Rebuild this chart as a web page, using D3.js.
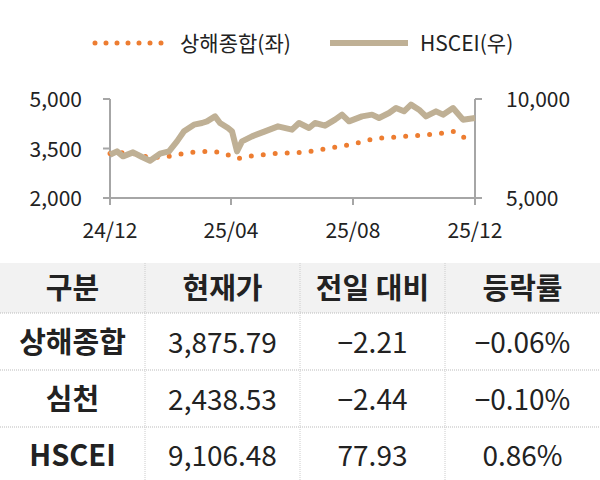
<!DOCTYPE html>
<html><head><meta charset="utf-8">
<script src="https://cdn.jsdelivr.net/npm/d3@7"></script>
<style>body{margin:0;background:#fff}text{font-family:"Noto Sans CJK KR","Noto Sans",sans-serif}</style>
</head><body><svg id="c" width="600" height="480"></svg>
<script>
const shDates=["2024-12-01","2024-12-20","2025-01-10","2025-01-25","2025-02-19","2025-03-12","2025-03-24","2025-04-07","2025-04-23","2025-05-18","2025-06-13","2025-07-07","2025-08-01","2025-08-23","2025-09-14","2025-10-07","2025-10-28","2025-11-09","2025-11-19","2025-12-01"];
const shVals=[3350,3380,3220,3243,3384,3424,3364,3192,3283,3354,3384,3505,3636,3808,3849,3899,3960,4020,3838,3876];
const hsDates=["2024-12-01","2024-12-08","2024-12-14","2024-12-24","2025-01-02","2025-01-10","2025-01-20","2025-01-29","2025-02-06","2025-02-13","2025-02-23","2025-03-03","2025-03-08","2025-03-16","2025-03-21","2025-03-29","2025-04-02","2025-04-07","2025-04-12","2025-04-22","2025-05-05","2025-05-18","2025-06-01","2025-06-08","2025-06-18","2025-06-24","2025-07-04","2025-07-14","2025-07-21","2025-07-28","2025-08-10","2025-08-20","2025-08-27","2025-09-06","2025-09-13","2025-09-21","2025-09-28","2025-10-06","2025-10-13","2025-10-23","2025-10-30","2025-11-09","2025-11-19","2025-12-01"];
const hsVals=[7188,7356,7104,7306,7070,6885,7238,7356,7861,8367,8703,8788,8872,9124,8788,8535,8367,7356,7861,8114,8367,8619,8451,8788,8535,8788,8653,8956,9209,8872,9124,9209,9040,9293,9545,9377,9714,9461,9124,9377,9209,9545,8956,9040];
const leftTicks=[2000,3500,5000];
const rightTicks=[5000,10000];
const xTicks=["2024-12-01","2025-04-01","2025-08-01","2025-12-01"];
const xTickLabels=["24/12","25/04","25/08","25/12"];
const legendLabels=["상해종합(좌)","HSCEI(우)"];
const tableHeader=["구분","현재가","전일 대비","등락률"];
const tableRows=[["상해종합","3,875.79","-2.21","-0.06%"],["심천","2,438.53","-2.44","-0.10%"],["HSCEI","9,106.48","77.93","0.86%"]];

const orange="#ED7D31", beige="#BFB095", gray="#A6A6A6";
const svg=d3.select("#c");
const pd=d3.timeParse("%Y-%m-%d");
const x=d3.scaleTime().domain([pd("2024-12-01"),pd("2025-12-01")]).range([110,475]);
const yl=d3.scaleLinear().domain([2000,5000]).range([198,99]);
const yr=d3.scaleLinear().domain([5000,10000]).range([198,99]);

svg.append("line").attr("x1",95).attr("x2",165).attr("y1",43).attr("y2",43).attr("stroke",orange).attr("stroke-width",5).attr("stroke-linecap","round").attr("stroke-dasharray","0 11");
svg.append("text").attr("x",180).attr("y",51).attr("font-size",21).attr("fill","#222").text(legendLabels[0]);
svg.append("line").attr("x1",330).attr("x2",408).attr("y1",43).attr("y2",43).attr("stroke",beige).attr("stroke-width",6);
svg.append("text").attr("x",420).attr("y",51).attr("font-size",21).attr("fill","#222").text(legendLabels[1]);

const ga=svg.append("g").attr("stroke",gray).attr("stroke-width",2);
ga.append("line").attr("x1",110).attr("x2",110).attr("y1",99).attr("y2",198);
ga.append("line").attr("x1",475).attr("x2",475).attr("y1",99).attr("y2",198);
ga.append("line").attr("x1",103).attr("x2",482).attr("y1",198).attr("y2",198);
leftTicks.forEach(t=>{ga.append("line").attr("x1",103).attr("x2",110).attr("y1",yl(t)).attr("y2",yl(t));
 svg.append("text").attr("x",82).attr("y",yl(t)+8).attr("text-anchor","end").attr("font-size",21).attr("fill","#222").text(d3.format(",")(t));});
rightTicks.forEach(t=>{ga.append("line").attr("x1",475).attr("x2",482).attr("y1",yr(t)).attr("y2",yr(t));
 svg.append("text").attr("x",506).attr("y",yr(t)+8).attr("font-size",21).attr("fill","#222").text(d3.format(",")(t));});
xTicks.forEach((t,i)=>{const xx=x(pd(t));ga.append("line").attr("x1",xx).attr("x2",xx).attr("y1",198).attr("y2",205);
 svg.append("text").attr("x",xx).attr("y",238).attr("text-anchor","middle").attr("font-size",21).attr("fill","#222").text(xTickLabels[i]);});

const sh=shDates.map((d,i)=>[pd(d),shVals[i]]);
const hs=hsDates.map((d,i)=>[pd(d),hsVals[i]]);
svg.append("path").attr("d",d3.line().x(d=>x(d[0])).y(d=>yl(d[1]))(sh)).attr("fill","none").attr("stroke",orange).attr("stroke-width",5).attr("stroke-linecap","round").attr("stroke-dasharray","0 12");
svg.append("path").attr("d",d3.line().x(d=>x(d[0])).y(d=>yr(d[1]))(hs)).attr("fill","none").attr("stroke",beige).attr("stroke-width",6).attr("stroke-linejoin","round");

const colX=[0,145,300,445,600];
svg.append("rect").attr("x",0).attr("y",263).attr("width",600).attr("height",50).attr("fill","#F2F2F2");
[313,370,427].forEach(y=>svg.append("line").attr("x1",0).attr("x2",600).attr("y1",y).attr("y2",y).attr("stroke","#BBB").attr("stroke-dasharray","1 1"));
[145,300,445].forEach(xx=>svg.append("line").attr("x1",xx).attr("x2",xx).attr("y1",263).attr("y2",480).attr("stroke","#CCC").attr("stroke-dasharray","1 1"));
const cx=i=>(colX[i]+colX[i+1])/2;
tableHeader.forEach((h,i)=>svg.append("text").attr("x",cx(i)).attr("y",299).attr("text-anchor","middle").attr("font-size",29).attr("font-weight","bold").attr("fill","#222").text(h));
tableRows.forEach((r,j)=>{const yy=353+j*56.5;
 r.forEach((v,i)=>svg.append("text").attr("x",cx(i)).attr("y",yy).attr("text-anchor","middle").attr("font-size",i==0?29:28).attr("font-weight",i==0?"bold":"normal").attr("fill","#222").text(v.replace(/^-/,"−")));});
</script></body></html>
